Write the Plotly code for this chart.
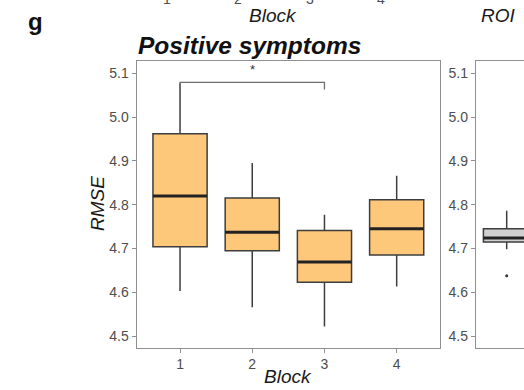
import plotly.graph_objects as go

# ---- data ----
blocks = [1, 2, 3, 4]
block_labels = ["1", "2", "3", "4"]
q1 = [4.704, 4.695, 4.623, 4.685]
median = [4.820, 4.737, 4.669, 4.745]
q3 = [4.962, 4.815, 4.741, 4.811]
lower = [4.603, 4.566, 4.522, 4.613]
upper = [5.077, 4.895, 4.777, 4.866]

roi_q1 = [4.715]
roi_median = [4.724]
roi_q3 = [4.745]
roi_lower = [4.698]
roi_upper = [4.786]
roi_outliers = [4.638]

yticks = [4.5, 4.6, 4.7, 4.8, 4.9, 5.0, 5.1]
ytick_labels = ["4.5", "4.6", "4.7", "4.8", "4.9", "5.0", "5.1"]

sig_pair = [1, 3]
sig_y = 5.079
sig_leg = 0.016
sig_label = "*"

W, H = 524, 390
FONT = "Liberation Sans, Arial, Helvetica, sans-serif"
TICKC = "#4d4d4d"
BORDER = "#8f8f8f"
BOXW = 0.75

fig = go.Figure()

fig.add_trace(go.Box(
    x=blocks, q1=q1, median=median, q3=q3, lowerfence=lower, upperfence=upper,
    width=BOXW, whiskerwidth=0, fillcolor="#FEC87A", line=dict(color="#3d3d3d", width=1.5),
    boxpoints=False, showlegend=False, xaxis="x", yaxis="y", hoverinfo="skip",
))
# thicker median lines
mx, my = [], []
for b, m in zip(blocks, median):
    mx += [b - BOXW / 2, b + BOXW / 2, None]
    my += [m, m, None]
fig.add_trace(go.Scatter(x=mx, y=my, mode="lines", line=dict(color="#222222", width=3),
                         showlegend=False, xaxis="x", yaxis="y", hoverinfo="skip"))

# significance bracket
fig.add_trace(go.Scatter(
    x=[sig_pair[0], sig_pair[0], sig_pair[1], sig_pair[1]],
    y=[sig_y - sig_leg, sig_y, sig_y, sig_y - sig_leg],
    mode="lines", line=dict(color="#6e6e6e", width=1.3),
    showlegend=False, xaxis="x", yaxis="y", hoverinfo="skip"))

# right (ROI) panel
fig.add_trace(go.Box(
    x=[1], q1=roi_q1, median=roi_median, q3=roi_q3, lowerfence=roi_lower, upperfence=roi_upper,
    width=BOXW, whiskerwidth=0, fillcolor="#D0D0D0", line=dict(color="#3d3d3d", width=1.5),
    boxpoints=False, showlegend=False, xaxis="x2", yaxis="y2", hoverinfo="skip",
))
fig.add_trace(go.Scatter(x=[1 - BOXW / 2, 1 + BOXW / 2], y=[roi_median[0]] * 2, mode="lines",
                         line=dict(color="#222222", width=3), showlegend=False,
                         xaxis="x2", yaxis="y2", hoverinfo="skip"))
fig.add_trace(go.Scatter(x=[1] * len(roi_outliers), y=roi_outliers, mode="markers",
                         marker=dict(color="#333333", size=3), showlegend=False,
                         xaxis="x2", yaxis="y2", hoverinfo="skip"))

yr = [4.474, 5.128]
axis_common = dict(showgrid=False, zeroline=False, showline=True, mirror=True,
                   linecolor=BORDER, linewidth=1.3, ticks="outside", ticklen=4,
                   tickcolor=BORDER, tickwidth=1, tickfont=dict(family=FONT, size=14, color=TICKC),
                   automargin=False)

u = 23.3 / 0.375
roi_left = 1 - 30.7 / u
roi_right = roi_left + 48 / u

fig.update_layout(
    width=W, height=H,
    margin=dict(l=0, r=0, t=0, b=0),
    paper_bgcolor="white", plot_bgcolor="white",
    xaxis=dict(domain=[136.7 / W, 440 / W], range=[0.4, 4.6], tickvals=blocks,
               ticktext=block_labels, anchor="y", **axis_common),
    yaxis=dict(domain=[1 - 347.5 / H, 1 - 61 / H], range=yr, tickvals=yticks,
               ticktext=ytick_labels, anchor="x", **axis_common),
    xaxis2=dict(domain=[476 / W, 1], range=[roi_left, roi_right], tickvals=[],
                anchor="y2", **axis_common),
    yaxis2=dict(domain=[1 - 347.5 / H, 1 - 61 / H], range=yr, tickvals=yticks,
                ticktext=ytick_labels, anchor="x2", **axis_common),
)

ann = []
def paper(text, x, y, size, xanchor="center", yanchor="middle", bold=False, italic=False, color="#1a1a1a"):
    t = text
    if bold:
        t = "<b>" + t + "</b>"
    if italic:
        t = "<i>" + t + "</i>"
    ann.append(dict(text=t, x=x / W, y=1 - y / H, xref="paper", yref="paper",
                    xanchor=xanchor, yanchor=yanchor, showarrow=False,
                    font=dict(family=FONT, size=size, color=color)))

paper("g", 26, 21, 24, xanchor="left", bold=True, color="#111111")
paper("Positive symptoms", 136, 45, 24.5, xanchor="left", bold=True, italic=True, color="#111111")
paper("RMSE", 97, 204, 19, italic=True)
ann[-1]["textangle"] = -90
paper("Block", 288, 376, 19, italic=True)
# cut-off remains of the panel above
paper("Block", 273, 16, 19, italic=True)
paper("ROI", 498, 16, 19, italic=True)
for xp, lab in zip([167, 238, 310, 381], block_labels):
    paper(lab, xp, -1, 14, color=TICKC)

ann.append(dict(text=sig_label, x=(sig_pair[0] + sig_pair[1]) / 2, y=5.108, xref="x", yref="y",
                showarrow=False, font=dict(family=FONT, size=13, color="#333333")))

fig.update_layout(annotations=ann)
fig.write_html("out.html", config={"displayModeBar": False},
               post_script="document.body.style.margin='0';document.body.style.overflow='hidden';")
